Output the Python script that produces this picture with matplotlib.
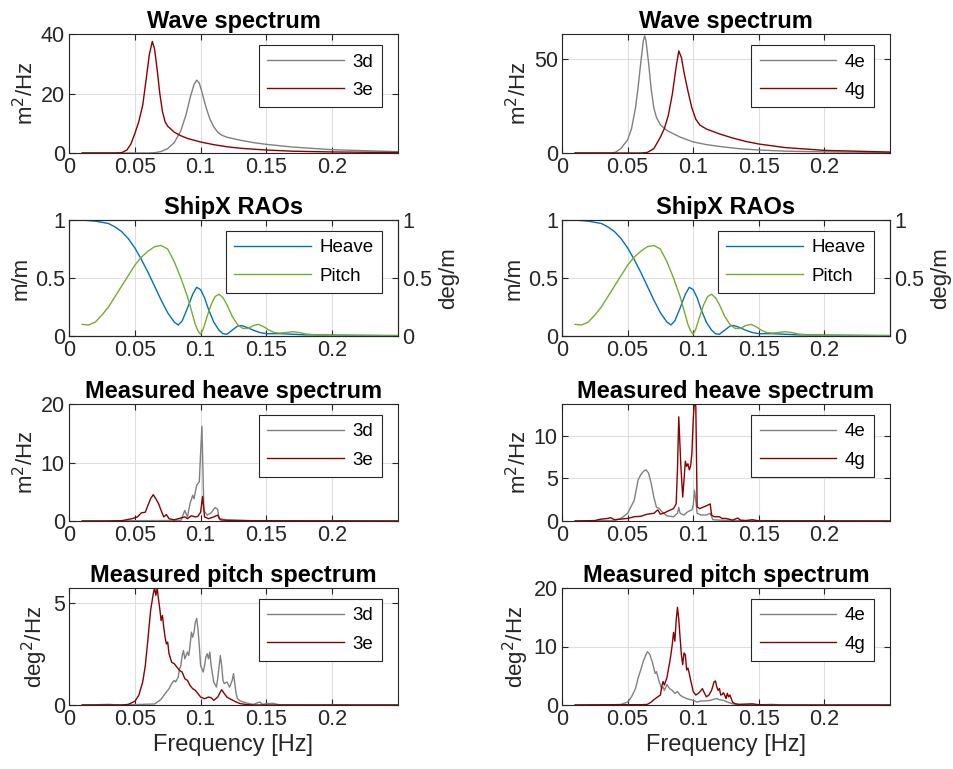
import matplotlib
matplotlib.use("Agg")
import matplotlib.pyplot as plt

plt.rcParams['font.family'] = ['Liberation Sans', 'DejaVu Sans']

# --- wave spectra (m^2/Hz) ---
f_3d_wave = [0.010, 0.060, 0.065, 0.070, 0.075, 0.080, 0.085, 0.089, 0.092, 0.095, 0.097, 0.099,
             0.101, 0.104, 0.107, 0.110, 0.113, 0.116, 0.120, 0.130, 0.140, 0.150, 0.170, 0.200, 0.250]
s_3d_wave = [0, 0, 0.1, 0.5, 1.5, 3.5, 7.5, 13, 18.5, 23, 24.5, 23.5,
             20.5, 15.5, 11.5, 8.8, 7.0, 6.0, 5.3, 4.3, 3.5, 2.9, 2.0, 1.1, 0.45]
f_3e_wave = [0.010, 0.035, 0.040, 0.044, 0.047, 0.050, 0.053, 0.056, 0.059, 0.061, 0.0633, 0.065,
             0.067, 0.069, 0.071, 0.073, 0.075, 0.080, 0.085, 0.090, 0.100, 0.110, 0.120, 0.130,
             0.150, 0.170, 0.200, 0.250]
s_3e_wave = [0, 0, 0.1, 1.0, 3.0, 6.5, 10.5, 16, 26, 33, 37.5, 35,
             28, 20, 14, 10.5, 9.0, 7.0, 5.8, 4.9, 3.7, 2.8, 2.1, 1.6,
             1.0, 0.6, 0.35, 0.15]
f_4e_wave = [0.010, 0.038, 0.041, 0.045, 0.050, 0.053, 0.056, 0.058, 0.060, 0.062, 0.063, 0.064,
             0.066, 0.068, 0.070, 0.072, 0.075, 0.080, 0.090, 0.100, 0.110, 0.120, 0.135, 0.150,
             0.170, 0.200, 0.250]
s_4e_wave = [0, 0, 0.5, 2.5, 7, 13, 24, 35, 48, 60, 62.5, 60,
             48, 34, 24, 19, 15, 12, 8.5, 5.9, 4.5, 3.5, 2.3, 1.6,
             1.0, 0.6, 0.25]
f_4g_wave = [0.010, 0.060, 0.065, 0.070, 0.075, 0.078, 0.081, 0.084, 0.087, 0.089, 0.091, 0.093,
             0.096, 0.099, 0.102, 0.105, 0.110, 0.120, 0.130, 0.140, 0.150, 0.170, 0.200, 0.250]
s_4g_wave = [0, 0, 0.3, 2.3, 8.5, 13, 20, 31, 46, 54.5, 51, 43,
             33, 24, 18, 15, 12.8, 10.2, 8.0, 6.2, 4.8, 2.9, 1.4, 0.5]

# --- ShipX RAOs ---
f_heave_rao = [0.010, 0.020, 0.030, 0.035, 0.040, 0.045, 0.050, 0.055, 0.060, 0.065, 0.070, 0.075,
               0.080, 0.083, 0.086, 0.090, 0.094, 0.097, 0.100, 0.103, 0.106, 0.110, 0.114, 0.117,
               0.120, 0.124, 0.128, 0.131, 0.135, 0.140, 0.145, 0.150, 0.160, 0.170, 0.180, 0.200, 0.250]
heave_rao = [1.00, 0.99, 0.97, 0.94, 0.90, 0.84, 0.76, 0.66, 0.55, 0.43, 0.31, 0.20,
             0.12, 0.095, 0.13, 0.24, 0.36, 0.42, 0.40, 0.33, 0.23, 0.12, 0.05, 0.02,
             0.015, 0.05, 0.085, 0.09, 0.075, 0.05, 0.03, 0.02, 0.02, 0.015, 0.01, 0.008, 0.004]
f_pitch_rao = [0.010, 0.015, 0.020, 0.025, 0.030, 0.035, 0.040, 0.045, 0.050, 0.055, 0.060, 0.065,
               0.070, 0.075, 0.080, 0.085, 0.090, 0.093, 0.096, 0.098, 0.100, 0.102, 0.105, 0.108,
               0.111, 0.114, 0.117, 0.120, 0.124, 0.128, 0.132, 0.136, 0.140, 0.144, 0.148, 0.152,
               0.156, 0.160, 0.165, 0.170, 0.175, 0.180, 0.190, 0.200, 0.250]
pitch_rao = [0.10, 0.095, 0.12, 0.18, 0.25, 0.34, 0.43, 0.52, 0.61, 0.68, 0.73, 0.77,
             0.78, 0.75, 0.64, 0.50, 0.34, 0.22, 0.10, 0.045, 0.015, 0.06, 0.17, 0.27,
             0.34, 0.36, 0.33, 0.27, 0.17, 0.10, 0.065, 0.065, 0.09, 0.10, 0.08, 0.05,
             0.03, 0.025, 0.03, 0.037, 0.03, 0.017, 0.008, 0.005, 0.002]

# --- measured heave spectra (m^2/Hz) ---
f_3d_heave = [0.010, 0.085, 0.088, 0.090, 0.092, 0.094, 0.095, 0.097, 0.099, 0.100, 0.101, 0.1025,
              0.105, 0.108, 0.111, 0.113, 0.114, 0.120, 0.130, 0.140, 0.250]
s_3d_heave = [0, 0.1, 1.8, 0.7, 3.0, 4.4, 3.8, 6.1, 6.7, 11.6, 16.2, 1.8,
              1.0, 1.4, 2.3, 2.0, 0.4, 0.2, 0.15, 0.05, 0]
f_3e_heave = [0.010, 0.030, 0.040, 0.048, 0.052, 0.055, 0.058, 0.060, 0.062, 0.064, 0.066, 0.068,
              0.070, 0.072, 0.074, 0.076, 0.080, 0.088, 0.090, 0.093, 0.096, 0.098, 0.100, 0.1015,
              0.103, 0.106, 0.110, 0.113, 0.115, 0.120, 0.130, 0.250]
s_3e_heave = [0, 0, 0.05, 0.4, 0.7, 1.4, 1.5, 2.7, 3.8, 4.5, 3.8, 3.0,
              1.8, 0.7, 1.1, 0.4, 0.2, 0.7, 0.4, 0.9, 0.7, 0.8, 1.5, 4.2,
              0.7, 0.4, 0.7, 1.0, 0.2, 0.1, 0.05, 0]
f_4e_heave = [0.010, 0.040, 0.045, 0.050, 0.055, 0.058, 0.060, 0.062, 0.064, 0.066, 0.068, 0.070,
              0.072, 0.074, 0.076, 0.080, 0.085, 0.088, 0.089, 0.090, 0.093, 0.096, 0.099, 0.100,
              0.101, 0.102, 0.103, 0.106, 0.110, 0.113, 0.115, 0.120, 0.130, 0.250]
s_4e_heave = [0, 0.05, 0.3, 0.9, 2.4, 4.8, 5.4, 5.8, 6.0, 5.6, 4.4, 2.8,
              1.6, 1.5, 1.1, 0.6, 0.5, 0.9, 1.6, 0.9, 0.7, 1.1, 1.3, 1.8,
              3.6, 2.4, 0.9, 0.7, 0.7, 0.9, 0.15, 0.1, 0.05, 0]
f_4g_heave = [0.010, 0.025, 0.029, 0.035, 0.037, 0.040, 0.050, 0.055, 0.060, 0.065, 0.070, 0.073,
              0.075, 0.078, 0.082, 0.085, 0.087, 0.088, 0.089, 0.0905, 0.092, 0.093, 0.094, 0.095,
              0.096, 0.097, 0.098, 0.099, 0.100, 0.101, 0.102, 0.103, 0.105, 0.108, 0.111, 0.113,
              0.114, 0.116, 0.120, 0.122, 0.125, 0.130, 0.134, 0.136, 0.140, 0.145, 0.150, 0.250]
s_4g_heave = [0, 0.05, 0.2, 0.3, 0.4, 0.15, 0.3, 0.5, 0.55, 0.8, 0.9, 1.3,
              0.8, 0.95, 1.25, 1.45, 2.0, 6.0, 12.2, 6.7, 2.8, 4.8, 7.0, 6.4,
              6.7, 6.0, 6.4, 7.9, 11.8, 14.2, 13.4, 1.65, 1.45, 1.65, 1.85, 2.0,
              0.7, 0.5, 0.5, 0.3, 0.3, 0.1, 0.35, 0.1, 0.05, 0.15, 0.02, 0]

# --- measured pitch spectra (deg^2/Hz) ---
f_3d_pitch = [0.010, 0.030, 0.040, 0.065, 0.070, 0.073, 0.076, 0.078, 0.080, 0.081, 0.083, 0.084,
              0.085, 0.086, 0.087, 0.088, 0.090, 0.091, 0.092, 0.093, 0.094, 0.095, 0.096, 0.097,
              0.098, 0.099, 0.100, 0.102, 0.103, 0.104, 0.105, 0.106, 0.107, 0.108, 0.110, 0.112,
              0.113, 0.114, 0.115, 0.116, 0.117, 0.118, 0.120, 0.122, 0.124, 0.125, 0.126, 0.127,
              0.128, 0.130, 0.135, 0.140, 0.143, 0.145, 0.147, 0.150, 0.155, 0.160, 0.250]
s_3d_pitch = [0, 0.03, 0, 0.05, 0.28, 0.56, 0.8, 1.05, 1.21, 1.13, 1.37, 1.78,
              1.94, 2.43, 2.68, 2.27, 2.6, 2.43, 2.92, 3.58, 3.33, 3.58, 4.07, 4.26,
              3.74, 2.92, 1.94, 1.62, 1.94, 2.35, 2.52, 2.27, 2.6, 1.94, 1.13, 0.88,
              1.29, 1.86, 2.43, 1.94, 1.21, 1.05, 1.13, 0.88, 1.21, 1.54, 1.05, 0.56,
              0.31, 0.2, 0.1, 0.03, 0.1, 0.15, 0.03, 0.07, 0.08, 0.01, 0]
f_3e_pitch = [0.010, 0.040, 0.045, 0.050, 0.053, 0.056, 0.058, 0.060, 0.062, 0.063, 0.064, 0.065,
              0.066, 0.067, 0.068, 0.069, 0.070, 0.071, 0.072, 0.073, 0.074, 0.075, 0.076, 0.078,
              0.080, 0.082, 0.084, 0.086, 0.088, 0.090, 0.092, 0.094, 0.096, 0.098, 0.100, 0.103,
              0.106, 0.108, 0.110, 0.113, 0.115, 0.116, 0.118, 0.120, 0.123, 0.127, 0.130, 0.135,
              0.140, 0.250]
s_3e_pitch = [0, 0, 0.03, 0.18, 0.47, 1.13, 1.94, 3.25, 4.64, 5.05, 5.46, 5.75,
              5.39, 5.75, 5.2, 4.72, 4.15, 4.4, 3.82, 3.33, 3.0, 3.09, 2.52, 2.1,
              2.03, 1.86, 1.7, 1.62, 1.29, 1.21, 0.96, 0.8, 0.72, 0.56, 0.39, 0.31,
              0.39, 0.36, 0.23, 0.39, 0.64, 0.75, 0.56, 0.39, 0.28, 0.15, 0.07, 0.02,
              0, 0]
f_4e_pitch = [0.010, 0.040, 0.045, 0.050, 0.053, 0.056, 0.058, 0.060, 0.062, 0.064, 0.065, 0.066,
              0.067, 0.068, 0.069, 0.070, 0.071, 0.072, 0.073, 0.074, 0.075, 0.076, 0.077, 0.078,
              0.080, 0.082, 0.084, 0.086, 0.088, 0.090, 0.092, 0.095, 0.098, 0.100, 0.103, 0.106,
              0.110, 0.113, 0.116, 0.118, 0.120, 0.123, 0.126, 0.130, 0.135, 0.150, 0.160, 0.170,
              0.250]
s_4e_pitch = [0, 0.05, 0.1, 0.5, 1.4, 2.8, 4.6, 6.0, 7.5, 8.6, 9.1, 8.9,
              8.6, 7.9, 7.2, 6.3, 5.4, 5.7, 4.9, 4.0, 3.4, 2.8, 3.1, 2.5,
              3.5, 2.8, 2.5, 2.0, 2.3, 1.7, 1.4, 1.1, 0.9, 0.8, 0.5, 0.7,
              0.7, 0.8, 1.0, 1.1, 0.9, 0.8, 0.5, 0.2, 0.1, 0.05, 0.1, 0,
              0]
f_4g_pitch = [0.010, 0.040, 0.060, 0.065, 0.068, 0.070, 0.073, 0.075, 0.076, 0.077, 0.078, 0.080,
              0.081, 0.082, 0.083, 0.084, 0.085, 0.086, 0.087, 0.088, 0.089, 0.090, 0.091, 0.092,
              0.093, 0.094, 0.095, 0.096, 0.097, 0.098, 0.100, 0.102, 0.104, 0.106, 0.107, 0.108,
              0.110, 0.112, 0.114, 0.116, 0.117, 0.118, 0.119, 0.120, 0.121, 0.122, 0.123, 0.124,
              0.125, 0.126, 0.127, 0.128, 0.130, 0.132, 0.135, 0.145, 0.150, 0.160, 0.250]
s_4g_pitch = [0, 0.05, 0.05, 0.1, 0.5, 0.9, 1.4, 1.7, 3.1, 4.0, 3.4, 4.7,
              6.0, 7.2, 8.6, 10.3, 12.4, 10.9, 14.4, 16.7, 14.7, 11.5, 8.6, 6.9,
              8.9, 8.6, 6.0, 6.3, 5.4, 4.3, 2.3, 1.7, 2.0, 2.5, 2.8, 2.3,
              1.4, 1.7, 2.5, 4.0, 4.1, 3.1, 2.5, 2.8, 1.7, 1.8, 2.1, 1.7,
              1.1, 2.0, 1.4, 1.7, 0.5, 0.2, 0.1, 0.2, 0.05, 0, 0]

GRAY = '#808080'
RED = '#8b0000'
BLUE = '#0072bd'
GREEN = '#77ac30'
AXC = '#262626'

TICK_FS = 15.5
YLAB_FS = 16
TITLE_FS = 17
LEG_FS = 13.5

W, H = 954, 769
fig = plt.figure(figsize=(W / 100, H / 100), dpi=100)


def make_ax(px_left, px_top, px_right, px_bottom):
    return fig.add_axes([px_left / W, 1 - px_bottom / H,
                         (px_right - px_left) / W, (px_bottom - px_top) / H])


def style(ax, yticks, ylim, ylabel, title, xlabel=None):
    ax.set_xlim(0, 0.25)
    ax.set_ylim(*ylim)
    ax.set_xticks([0, 0.05, 0.1, 0.15, 0.2])
    ax.set_xticklabels(['0', '0.05', '0.1', '0.15', '0.2'])
    ax.set_yticks(yticks)
    ax.set_yticklabels([f'{t:g}' for t in yticks])
    ax.grid(True, color='#dfdfdf', lw=0.8)
    ax.set_axisbelow(True)
    ax.tick_params(direction='in', length=4, width=0.8, colors=AXC, labelsize=TICK_FS,
                   top=True, right=True, pad=3)
    for s in ax.spines.values():
        s.set_color(AXC)
        s.set_linewidth(0.8)
    ax.set_ylabel(ylabel, fontsize=YLAB_FS, color=AXC, labelpad=2)
    ax.set_title(title, fontsize=TITLE_FS, fontweight='bold', pad=4)
    if xlabel:
        ax.set_xlabel(xlabel, fontsize=17, color=AXC, labelpad=3)


def legend(ax, handles, labels):
    leg = ax.legend(handles, labels, loc='upper right', bbox_to_anchor=(1 - 16 / 329, 1 - 11 / 118),
                    borderaxespad=0, fontsize=LEG_FS, handlelength=4.1, handletextpad=0.45,
                    borderpad=0.45, labelspacing=0.6, fancybox=False, framealpha=1,
                    edgecolor=AXC)
    leg.get_frame().set_linewidth(0.8)
    return leg


cols = [(69, 398), (562, 890)]
rows = [(34, 153), (220, 336), (404, 521), (588, 705)]

panels = [
    (f_3d_wave, s_3d_wave, f_3e_wave, s_3e_wave, '3d', '3e', f_3d_heave, s_3d_heave, f_3e_heave,
     s_3e_heave, f_3d_pitch, s_3d_pitch, f_3e_pitch, s_3e_pitch,
     [0, 20, 40], (0, 40), [0, 10, 20], (0, 20), [0, 5], (0, 5.75)),
    (f_4e_wave, s_4e_wave, f_4g_wave, s_4g_wave, '4e', '4g', f_4e_heave, s_4e_heave, f_4g_heave,
     s_4g_heave, f_4e_pitch, s_4e_pitch, f_4g_pitch, s_4g_pitch,
     [0, 50], (0, 63.5), [0, 5, 10], (0, 13.7), [0, 10, 20], (0, 20)),
]

for c, p in enumerate(panels):
    x0, x1 = cols[c]
    (fa, sa, fb, sb, la, lb, fha, sha, fhb, shb, fpa, spa, fpb, spb,
     wt, wl, ht, hl, pt, pl) = p

    # wave spectrum
    ax = make_ax(x0, rows[0][0], x1, rows[0][1])
    h1, = ax.plot(fa, sa, color=GRAY, lw=1)
    h2, = ax.plot(fb, sb, color=RED, lw=1)
    style(ax, wt, wl, r'm$^2$/Hz', 'Wave spectrum')
    legend(ax, [h1, h2], [la, lb])

    # RAOs
    ax = make_ax(x0, rows[1][0], x1, rows[1][1])
    ax2 = ax.twinx()
    h1, = ax.plot(f_heave_rao, heave_rao, color=BLUE, lw=1)
    h2, = ax2.plot(f_pitch_rao, pitch_rao, color=GREEN, lw=1)
    style(ax, [0, 0.5, 1], (0, 1), 'm/m', 'ShipX RAOs')
    ax.tick_params(right=False)
    ax2.set_ylim(0, 1)
    ax2.set_yticks([0, 0.5, 1])
    ax2.set_yticklabels(['0', '0.5', '1'])
    ax2.tick_params(direction='in', length=4, width=0.8, colors=AXC, labelsize=TICK_FS, pad=3)
    for s in ax2.spines.values():
        s.set_color(AXC)
        s.set_linewidth(0.8)
    ax2.set_ylabel('deg/m', fontsize=YLAB_FS, color=AXC, labelpad=4)
    legend(ax2, [h1, h2], ['Heave', 'Pitch'])

    # measured heave
    ax = make_ax(x0, rows[2][0], x1, rows[2][1])
    h1, = ax.plot(fha, sha, color=GRAY, lw=1)
    h2, = ax.plot(fhb, shb, color=RED, lw=1)
    style(ax, ht, hl, r'm$^2$/Hz', 'Measured heave spectrum')
    legend(ax, [h1, h2], [la, lb])

    # measured pitch
    ax = make_ax(x0, rows[3][0], x1, rows[3][1])
    h1, = ax.plot(fpa, spa, color=GRAY, lw=1)
    h2, = ax.plot(fpb, spb, color=RED, lw=1)
    style(ax, pt, pl, r'deg$^2$/Hz', 'Measured pitch spectrum', 'Frequency [Hz]')
    legend(ax, [h1, h2], [la, lb])

fig.savefig('out.png', dpi=100, facecolor='white')
